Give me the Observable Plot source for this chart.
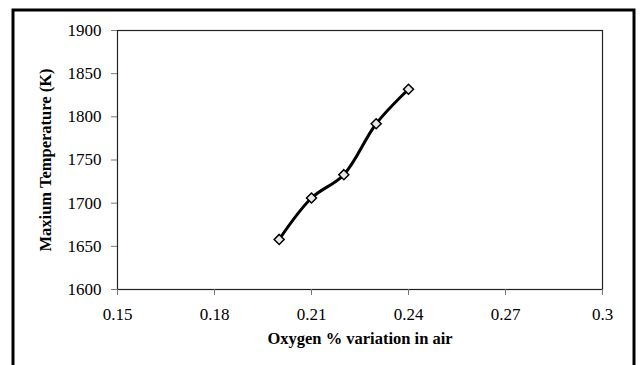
<!DOCTYPE html>
<html>
<head>
<meta charset="utf-8">
<script src="https://cdn.jsdelivr.net/npm/d3@7"></script>
<script src="https://cdn.jsdelivr.net/npm/@observablehq/plot@0.6"></script>
<style>
  html, body { margin: 0; padding: 0; background: #fff; }
  #chart svg { display: block; }
</style>
</head>
<body>
<div id="chart"></div>
<script>
const oxygen = [0.20, 0.21, 0.22, 0.23, 0.24];
const maxTemperature = [1658, 1706, 1733, 1792, 1832];
const xTicks = [0.15, 0.18, 0.21, 0.24, 0.27, 0.30];
const yTicks = [1600, 1650, 1700, 1750, 1800, 1850, 1900];
const xTitle = "Oxygen % variation in air";
const yTitle = "Maxium Temperature (K)";

const data = oxygen.map((x, i) => ({x, y: maxTemperature[i]}));
const font = "'Liberation Serif', 'Times New Roman', serif";

const chart = Plot.plot({
  width: 642,
  height: 365,
  marginLeft: 117,
  marginRight: 40,
  marginTop: 30,
  marginBottom: 76,
  style: {fontFamily: font, fontSize: "17px", color: "#000", background: "#fff"},
  x: {domain: [0.15, 0.30]},
  y: {domain: [1600, 1900]},
  marks: [
    Plot.frame({stroke: "#222", strokeWidth: 1.2}),
    Plot.axisX({ticks: xTicks, tickFormat: d => String(+d.toFixed(2)), tickSize: 6, tickPadding: 12, stroke: "#777",
      fontSize: 17, label: null}),
    Plot.axisY({ticks: yTicks, tickFormat: d => String(d), tickSize: 6, tickPadding: 10, stroke: "#777",
      fontSize: 17, label: null}),
    Plot.text([xTitle], {text: d => d, frameAnchor: "bottom", dy: 54, fontSize: 16.5, fontWeight: "bold", fill: "#000"}),
    Plot.text([yTitle], {text: d => d, frameAnchor: "left", textAnchor: "middle", dx: -72, rotate: -90, fontSize: 16.5, fontWeight: "bold", fill: "#000"}),
    Plot.line(data, {x: "x", y: "y", curve: "catmull-rom", stroke: "#000", strokeWidth: 3}),
    Plot.dot(data, {x: "x", y: "y", symbol: "diamond2", r: 4.5, stroke: "#000", strokeWidth: 1.5, fill: "#e8e8e8"})
  ]
});

document.getElementById("chart").appendChild(chart);

d3.select(chart).append("rect")
  .attr("x", 13).attr("y", 10).attr("width", 621).attr("height", 380)
  .attr("fill", "none").attr("stroke", "#000").attr("stroke-width", 3);
</script>
</body>
</html>
